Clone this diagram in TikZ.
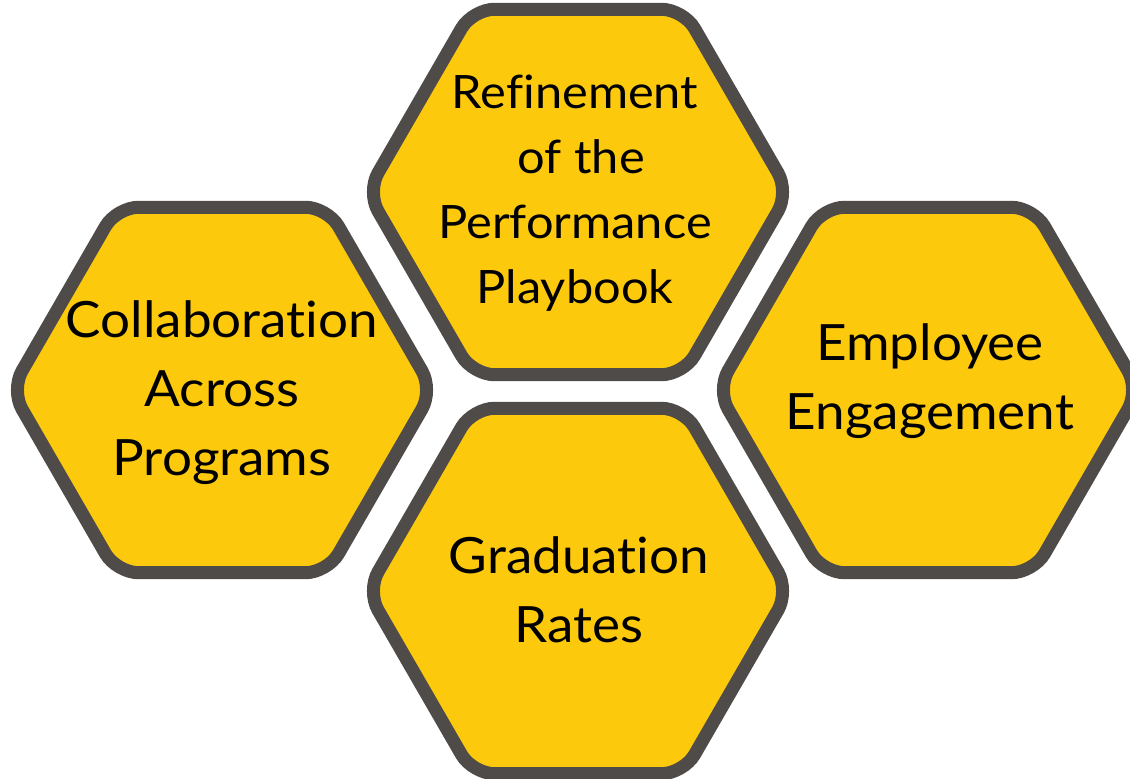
\documentclass[tikz,border=0pt]{standalone}
\usepackage{fontspec}
\setmainfont{Lato}[Ligatures=NoCommon,FakeStretch=1.06]
\usepackage{tikz}
\usetikzlibrary{shapes.geometric}
\usepackage{xcolor}
\definecolor{ColHoney}{RGB}{253,201,12}
\definecolor{ColFrame}{RGB}{78,75,73}
\tikzstyle{HexCell}=[regular polygon,regular polygon sides=6,minimum size=422pt,inner sep=0pt,
draw=ColFrame,fill=ColHoney,line width=13pt,rounded corners=22pt]
\tikzstyle{CellText}=[align=center,inner sep=0pt,text=black,font=\fontsize{50}{69}\selectfont]
\tikzstyle{CellTextSmall}=[CellText,font=\fontsize{46}{65}\selectfont]
\begin{document}
\begin{tikzpicture}[x=1pt,y=-1pt]
        \useasboundingbox(0,0)rectangle(1130,779);
        \node[HexCell](top)at(578,192){};
        \node[HexCell](left)at(222,390){};
        \node[HexCell](right)at(928,390){};
        \node[HexCell](bottom)at(578,591){};
        \node[CellTextSmall](topText)at(575,193){Refinement\\ \ of the\\Performance\\Playbook};
        \node[CellText](leftText)at(222,393){Collaboration\\Across\\Programs};
        \node[CellText](rightText)at(930,381){Employee\\Engagement};
        \node[CellText](bottomText)at(579,590){Graduation\\Rates};
    \end{tikzpicture}
\end{document}
